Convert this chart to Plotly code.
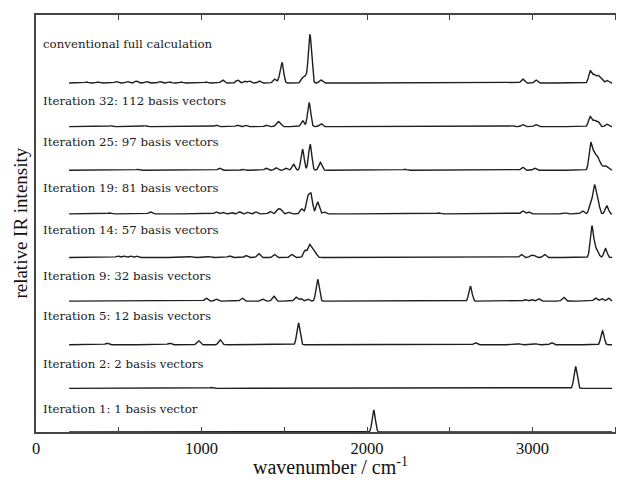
import numpy as np
import plotly.graph_objects as go

# ---- data: stick spectra (wavenumber cm-1, relative intensity) ----
labels = [
    "Iteration 1: 1 basis vector",
    "Iteration 2: 2 basis vectors",
    "Iteration 5: 12 basis vectors",
    "Iteration 9: 32 basis vectors",
    "Iteration 14: 57 basis vectors",
    "Iteration 19: 81 basis vectors",
    "Iteration 25: 97 basis vectors",
    "Iteration 32: 112 basis vectors",
    "conventional full calculation",
]

it1_pos = [2040]
it1_int = [22]

it2_pos = [1060, 3259]
it2_int = [1, 22]

it5_pos = [429, 807, 982, 1112, 1585, 2655, 2916, 3018, 3115, 3422]
it5_int = [1.5, 1.5, 4, 5, 22, 2, 1, 1, 2, 14]

it9_pos = [1028, 1088, 1245, 1369, 1436, 1570, 1600, 1640, 1701, 2624, 2956, 2995, 3036, 3187, 3380, 3417, 3458]
it9_int = [3, 2, 3, 2, 5, 4, 2.5, 2, 22, 15, 1.5, 1.5, 2.5, 4, 3, 2.5, 3]

it14_pos = [494, 530, 570, 608, 938, 1048, 1169, 1269, 1345, 1440, 1545, 1625, 1651, 1671, 1688,
            2932, 2990, 3010, 3072, 3357, 3374, 3392, 3440]
it14_int = [1.5, 1.5, 1.5, 1.5, 1, 1, 1.5, 2, 4, 3, 3, 7, 12, 8, 4,
            3, 2, 2, 3, 30, 8, 6, 9]

it19_pos = [446, 691, 1088, 1128, 1180, 1230, 1280, 1329, 1415, 1460, 1478, 1526, 1605, 1641, 1661, 1701, 1741,
            2434, 2940, 2976, 3197, 3301, 3350, 3373, 3393, 3448]
it19_int = [1, 2, 2, 1.5, 1.5, 2, 1.5, 2, 2.5, 4, 4, 1.5, 5, 16, 19, 12, 2,
            1, 3, 2, 1, 3, 10, 27, 14, 8]

it25_pos = [616, 1108, 1248, 1390, 1450, 1510, 1556, 1610, 1656, 1717, 2229, 2940, 3012,
            3350, 3372, 3393, 3413, 3437, 3455]
it25_int = [1, 2, 1, 2, 2.5, 2, 6, 21, 26, 8, 1, 3, 2,
            27, 16, 12, 5, 4, 2]

it32_pos = [452, 657, 1088, 1217, 1266, 1390, 1458, 1474, 1610, 1650, 1721, 2875, 2940, 3020,
            3347, 3372, 3395, 3448]
it32_int = [1, 1, 1.5, 1.5, 1.5, 1.5, 4, 3, 6, 24, 3, 1, 2, 2,
            10, 6, 5, 2.5]

conv_pos = [305, 375, 486, 554, 606, 667, 747, 807, 878, 1028, 1127, 1217, 1260, 1289, 1349, 1440, 1470,
            1486, 1610, 1630, 1655, 1721, 2940, 3020, 3348, 3372, 3395, 3415, 3450]
conv_int = [1, 1, 1.5, 1.5, 2, 1.5, 1.5, 1, 1, 1, 3, 3, 2, 2, 2, 4, 3,
            20, 5, 6, 48, 3, 4, 3, 12, 8, 7, 4, 2.5]

peak_positions = [it1_pos, it2_pos, it5_pos, it9_pos, it14_pos, it19_pos, it25_pos, it32_pos, conv_pos]
peak_intensities = [it1_int, it2_int, it5_int, it9_int, it14_int, it19_int, it25_int, it32_int, conv_int]

x_ticks = [0, 500, 1000, 1500, 2000, 2500, 3000, 3500]
x_tick_text = ["0", "", "1000", "", "2000", "", "3000", ""]

# ---- rendering settings ----
SPACING = 43.6       # intensity units per stacked trace
SIGMA = 9.5          # Gaussian broadening (cm-1)
label_dy = [0.52, 0.57, 0.66, 0.58, 0.64, 0.6, 0.65, 0.59, 0.9]

grid = np.arange(200, 3482, 2.0)

fig = go.Figure()
for i, (pos, inten) in enumerate(zip(peak_positions, peak_intensities)):
    y = np.zeros_like(grid)
    for p, h in zip(pos, inten):
        y += h * np.exp(-0.5 * ((grid - p) / SIGMA) ** 2)
    fig.add_trace(go.Scatter(
        x=grid, y=i + y / SPACING, mode="lines",
        line=dict(color="#1e1e1e", width=1.4), showlegend=False, hoverinfo="skip"))
    fig.add_annotation(
        x=30, y=i + label_dy[i], text=labels[i], showarrow=False,
        xanchor="left", yanchor="middle",
        font=dict(family="DejaVu Serif", size=11.8, color="#1a1a1a"))

fig.add_annotation(
    xref="paper", yref="paper", x=0.5, y=-0.082, yanchor="middle", showarrow=False,
    text="wavenumber / cm<sup>-1</sup>",
    font=dict(family="Liberation Serif", size=20, color="#111"))
fig.add_annotation(
    xref="paper", yref="paper", x=-0.027, y=0.5, showarrow=False, textangle=-90,
    xanchor="center", yanchor="middle",
    text="relative IR intensity",
    font=dict(family="Liberation Serif", size=19, color="#111"))

# page body adds an 8px offset, so the figure is drawn 8px smaller
fig.update_layout(
    width=616, height=475,
    margin=dict(l=28, r=0, t=7, b=51),
    paper_bgcolor="white", plot_bgcolor="white",
    xaxis=dict(range=[0, 3552], tickvals=x_ticks, ticktext=x_tick_text,
               ticks="inside", ticklen=5, tickcolor="#444", tickwidth=1,
               showline=True, linecolor="#444", linewidth=1.5, mirror="ticks",
               showgrid=False, zeroline=False, automargin=False,
               tickfont=dict(family="Liberation Serif", size=16.5, color="#111")),
    yaxis=dict(range=[0, 9.56], showticklabels=False, ticks="",
               showline=True, linecolor="#444", linewidth=1.5, mirror=False,
               showgrid=False, zeroline=False, automargin=False),
)

fig.write_html("out.html")
